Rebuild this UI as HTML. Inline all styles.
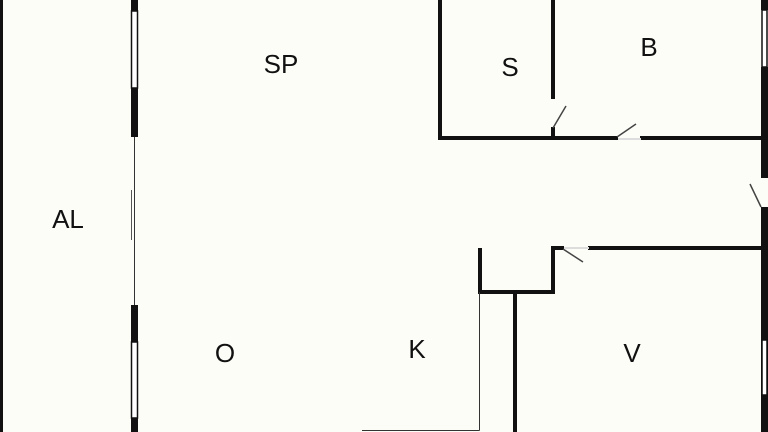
<!DOCTYPE html>
<html><head><meta charset="utf-8"><style>
html,body{margin:0;padding:0;background:#fdfdf8;}
svg{display:block}
text{font-family:"Liberation Sans",sans-serif;font-size:26px;fill:#111;text-anchor:middle;dominant-baseline:central}
</style></head><body>
<svg width="768" height="432" viewBox="0 0 768 432" xmlns="http://www.w3.org/2000/svg">
<rect width="768" height="432" fill="#fdfdf8"/>
<rect x="0" y="0" width="3" height="432" fill="#111"/>
<rect x="131" y="0" width="7" height="11" fill="#111"/>
<rect x="131.5" y="11" width="6" height="77" fill="#fff" stroke="#111" stroke-width="1.5"/>
<rect x="131" y="88" width="7" height="49" fill="#111"/>
<line x1="134.5" y1="137" x2="134.5" y2="305" stroke="#333" stroke-width="1"/>
<line x1="131.5" y1="190" x2="131.5" y2="240" stroke="#555" stroke-width="1"/>
<rect x="131" y="305" width="7" height="37" fill="#111"/>
<rect x="131.5" y="342" width="6" height="76" fill="#fff" stroke="#111" stroke-width="1.5"/>
<rect x="131" y="418" width="7" height="14" fill="#111"/>
<rect x="761" y="0" width="7" height="10" fill="#111"/>
<rect x="762" y="10" width="5" height="57" fill="#fff" stroke="#111" stroke-width="1.5"/>
<rect x="761" y="67" width="7" height="111" fill="#111"/>
<rect x="761" y="207" width="7" height="225" fill="#111"/>
<rect x="762" y="340" width="5" height="55" fill="#fff" stroke="#111" stroke-width="1.5"/>
<line x1="750" y1="184" x2="761" y2="207" stroke="#444" stroke-width="1.5"/>
<g stroke="#111" stroke-width="4" fill="none" stroke-linecap="square">
<line x1="440" y1="0" x2="440" y2="138"/>
<line x1="440" y1="138" x2="616" y2="138"/>
<line x1="642" y1="138" x2="762" y2="138"/>
<line x1="553" y1="0" x2="553" y2="97"/>
<line x1="553" y1="129" x2="553" y2="138"/>
<line x1="590" y1="248" x2="762" y2="248"/>
<line x1="553" y1="248" x2="562" y2="248"/>
<line x1="553" y1="248" x2="553" y2="292"/>
<line x1="480" y1="250" x2="480" y2="292"/>
<line x1="480" y1="292" x2="553" y2="292"/>
<line x1="515" y1="292" x2="515" y2="432"/>
</g>
<line x1="553" y1="128" x2="566" y2="106" stroke="#444" stroke-width="1.5"/>
<line x1="617" y1="137" x2="636" y2="124" stroke="#444" stroke-width="1.5"/>
<line x1="563" y1="249" x2="583" y2="262" stroke="#444" stroke-width="1.5"/>
<line x1="618" y1="139" x2="641" y2="139" stroke="#ddd" stroke-width="2"/>
<line x1="564" y1="248" x2="589" y2="248" stroke="#ddd" stroke-width="2"/>
<line x1="479.5" y1="292" x2="479.5" y2="430.5" stroke="#333" stroke-width="1"/>
<line x1="362" y1="430.5" x2="479.5" y2="430.5" stroke="#333" stroke-width="1"/>
<text x="281" y="64">SP</text>
<text x="510" y="67">S</text>
<text x="649" y="47">B</text>
<text x="68" y="219">AL</text>
<text x="225" y="353">O</text>
<text x="417" y="349">K</text>
<text x="632" y="353">V</text>
</svg>
</body></html>
